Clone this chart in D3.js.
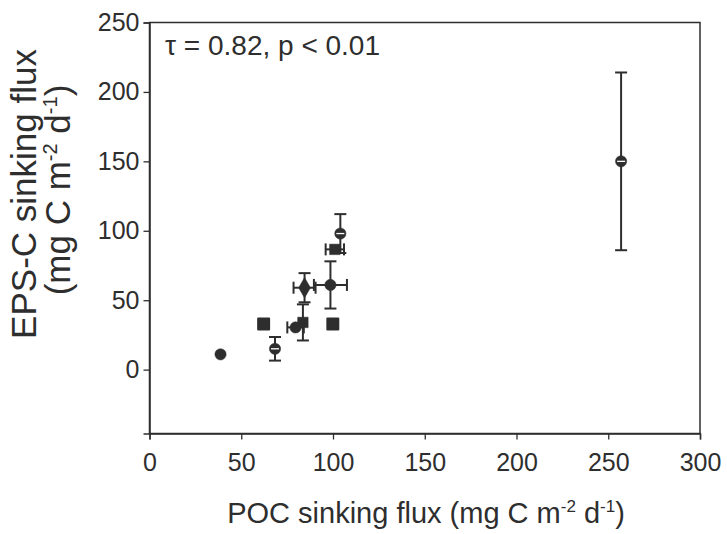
<!DOCTYPE html>
<html><head><meta charset="utf-8">
<script src="https://cdn.jsdelivr.net/npm/d3@7"></script>
<style>body{margin:0;background:#fff}svg{display:block}text{font-family:"Liberation Sans",Arial,sans-serif;fill:#2e2e2e}</style>
</head><body>
<script>
const xValues = [257, 104, 101, 84.5, 98.6, 62.2, 99.9, 83.6, 79.6, 68.4, 38.7];
const yValues = [150, 98, 86.6, 59, 61, 32.8, 32.8, 34, 30.4, 15, 11];
const xErrors = [0, 0, 5, 6, 9, 0, 0, 0, 4.5, 0, 0];
const yErrors = [64, 14, 0, 10.5, 17, 0, 0, 13, 0, 8.5, 0];
const markers = ["circleLine","circleLine","square","diamond","circle","hex","hex","square","circle","circleLine","circle"];
const xTicks = [0, 50, 100, 150, 200, 250, 300];
const yTicks = [0, 50, 100, 150, 200, 250];
const annotation = "τ = 0.82, p < 0.01";

const W = 727, H = 534;
const svg = d3.select("body").append("svg").attr("width", W).attr("height", H);
const x = d3.scaleLinear().domain([0, 300]).range([149.5, 700]);
const y = d3.scaleLinear().domain([-46, 250]).range([433.5, 22.5]);
const ink = "#2e2e2e";

// frame
svg.append("rect").attr("x", x(0)).attr("y", y(250)).attr("width", x(300) - x(0)).attr("height", y(-46) - y(250))
  .attr("fill", "none").attr("stroke", ink).attr("stroke-width", 1.5);

const xAxis = svg.append("g").attr("transform", `translate(0,${y(-46)})`)
  .call(d3.axisBottom(x).tickValues(xTicks).tickSize(6).tickPadding(14).tickFormat(d3.format("d")));
const yAxis = svg.append("g").attr("transform", `translate(${x(0)},0)`)
  .call(d3.axisLeft(y).tickValues(yTicks).tickSize(6).tickPadding(4).tickFormat(d3.format("d")));
[xAxis, yAxis].forEach(a => {
  a.select(".domain").attr("stroke", ink).attr("stroke-width", 1.5);
  a.selectAll(".tick line").attr("stroke", ink).attr("stroke-width", 1.3);
  a.selectAll(".tick text").attr("font-size", 25).attr("fill", ink).style("font-family", "Liberation Sans, Arial, sans-serif");
});

// error bars
const pts = xValues.map((v, i) => ({x: v, y: yValues[i], xe: xErrors[i], ye: yErrors[i], m: markers[i]}));
const eb = svg.append("g").attr("stroke", ink).attr("stroke-width", 2);
const cap = 6;
pts.forEach(p => {
  if (p.ye > 0) {
    eb.append("line").attr("x1", x(p.x)).attr("x2", x(p.x)).attr("y1", y(p.y - p.ye)).attr("y2", y(p.y + p.ye));
    [p.y - p.ye, p.y + p.ye].forEach(v => eb.append("line").attr("x1", x(p.x) - cap).attr("x2", x(p.x) + cap).attr("y1", y(v)).attr("y2", y(v)));
  }
  if (p.xe > 0) {
    eb.append("line").attr("y1", y(p.y)).attr("y2", y(p.y)).attr("x1", x(p.x - p.xe)).attr("x2", x(p.x + p.xe));
    [p.x - p.xe, p.x + p.xe].forEach(v => eb.append("line").attr("y1", y(p.y) - cap).attr("y2", y(p.y) + cap).attr("x1", x(v)).attr("x2", x(v)));
  }
});

// markers
const mk = svg.append("g");
const sym = {circle: d3.symbolCircle, circleLine: d3.symbolCircle, square: d3.symbolSquare, diamond: d3.symbolDiamond, hex: d3.symbolSquare};
const size = {circle: 100, circleLine: 100, square: 110, diamond: 120, hex: 120};
pts.forEach(p => {
  const g = mk.append("g").attr("transform", `translate(${x(p.x)},${y(p.y)})`);
  g.append("path").attr("d", d3.symbol(sym[p.m], size[p.m])()).attr("fill", ink)
    .attr("stroke", ink).attr("stroke-width", p.m === "hex" ? 2 : 0.5).attr("stroke-linejoin", "round");
  if (p.m === "circleLine") g.append("line").attr("x1", -4).attr("x2", 4).attr("y1", 0).attr("y2", 0).attr("stroke", "#fff").attr("stroke-width", 1.3);
});

// annotation
svg.append("text").attr("x", 165).attr("y", 55).attr("font-size", 28).text(annotation);

// axis titles
const xt = svg.append("text").attr("x", 426).attr("y", 523).attr("text-anchor", "middle").attr("font-size", 29);
xt.append("tspan").text("POC sinking flux (mg C m");
xt.append("tspan").attr("dy", -11).attr("font-size", 17).text("-2");
xt.append("tspan").attr("dy", 11).text("  d");
xt.append("tspan").attr("dy", -11).attr("font-size", 17).text("-1");
xt.append("tspan").attr("dy", 11).text(")");

const yt1 = svg.append("text").attr("transform", "translate(36,194) rotate(-90)").attr("text-anchor", "middle").attr("font-size", 35).text("EPS-C sinking flux");
const yt2 = svg.append("text").attr("transform", "translate(70,190) rotate(-90)").attr("text-anchor", "middle").attr("font-size", 35);
yt2.append("tspan").text("(mg C m");
yt2.append("tspan").attr("dy", -13).attr("font-size", 20).text("-2");
yt2.append("tspan").attr("dy", 13).text("  d");
yt2.append("tspan").attr("dy", -13).attr("font-size", 20).text("-1");
yt2.append("tspan").attr("dy", 13).text(")");
</script>
</body></html>
